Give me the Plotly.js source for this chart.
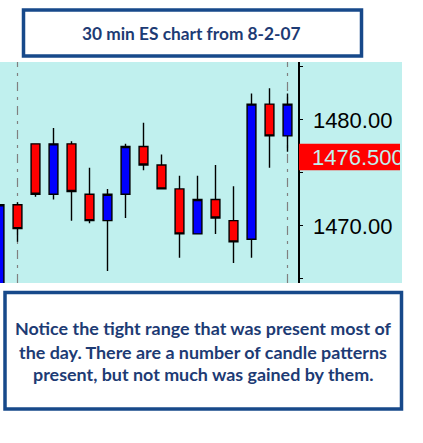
<!DOCTYPE html>
<html>
<head>
<meta charset="utf-8">
<script src="https://cdn.plot.ly/plotly-3.0.1.min.js"></script>
<style>
  html, body { margin: 0; padding: 0; background: #ffffff; }
  #chart { width: 423px; height: 443px; }
</style>
</head>
<body>
<div id="chart"></div>
<script>
// 30-minute ES bars, 8-2-07 (bar index, OHLC)
const bars  = [0, 1, 2, 3, 4, 5, 6, 7, 8, 9, 10, 11, 12, 13, 14, 15, 16];
const open  = [1463.00, 1472.00, 1477.75, 1473.00, 1477.75, 1473.00, 1470.50, 1473.00, 1477.50, 1475.75, 1473.50, 1469.25, 1472.50, 1470.50, 1468.75, 1481.50, 1478.50];
const high  = [1472.00, 1472.25, 1477.75, 1479.25, 1478.00, 1475.50, 1473.50, 1477.75, 1479.75, 1476.75, 1474.75, 1474.75, 1475.75, 1473.75, 1482.50, 1483.00, 1482.50];
const low   = [1462.50, 1468.50, 1472.75, 1472.50, 1470.50, 1470.25, 1465.75, 1470.75, 1475.25, 1473.50, 1467.00, 1469.25, 1469.25, 1466.50, 1467.00, 1475.50, 1477.00];
const close = [1472.00, 1469.75, 1473.00, 1477.75, 1473.25, 1470.50, 1473.00, 1477.50, 1475.75, 1473.50, 1469.25, 1472.50, 1470.75, 1468.50, 1481.50, 1478.50, 1481.50];

// session separators and last traded price
const sessionMarks = [1, 16];
const lastPrice = 1476.5;

const titleText = '30 min ES chart from 8-2-07';
const noteLines = [
  'Notice the tight range that was present most of',
  'the day. There are a number of candle patterns',
  'present, but not much was gained by them.'
];

const W = 423, H = 443;
const plotL = 0, plotR = 402, plotT = 62, plotB = 283;
const plotW = plotR - plotL, plotH = plotB - plotT;
const px2x = x => (x - plotL) / plotW;          // pixel -> paper x
const px2y = y => (plotB - y) / plotH;          // pixel -> paper y

const boxColor = '#17498a';
const textColor = '#1d3b74';
const bgCyan = '#c0f0ee';

const trace = {
  type: 'candlestick',
  x: bars, open: open, high: high, low: low, close: close,
  increasing: { line: { color: '#000000', width: 1.4 }, fillcolor: '#0000ff' },
  decreasing: { line: { color: '#000000', width: 1.4 }, fillcolor: '#ff0000' },
  whiskerwidth: 0,
  hoverinfo: 'skip',
  showlegend: false
};

const shapes = [];
sessionMarks.forEach(m => shapes.push({
  type: 'line', xref: 'x', yref: 'paper', x0: m, x1: m, y0: 0, y1: 1,
  line: { color: '#808080', width: 1.2, dash: '9px,6px,3px,6px' }, layer: 'below'
}));
// last price flag on the scale
shapes.push({
  type: 'rect', xref: 'paper', yref: 'y',
  x0: px2x(299), x1: px2x(400), y0: lastPrice - 1.25, y1: lastPrice + 1.25,
  fillcolor: '#ff0000', line: { width: 0 }, layer: 'above'
});
// title frame
shapes.push({
  type: 'rect', xref: 'paper', yref: 'paper',
  x0: px2x(23.5), x1: px2x(361.5), y0: px2y(56), y1: px2y(10),
  fillcolor: '#ffffff', line: { color: boxColor, width: 3.5 }
});
// note frame
shapes.push({
  type: 'rect', xref: 'paper', yref: 'paper',
  x0: px2x(5), x1: px2x(401.5), y0: px2y(409), y1: px2y(292.5),
  fillcolor: '#ffffff', line: { color: boxColor, width: 3.5 }
});

const annotations = [];
annotations.push({
  text: '<b>' + titleText + '</b>', xref: 'paper', yref: 'paper',
  x: px2x(191.5), y: px2y(33), xanchor: 'center', yanchor: 'middle',
  showarrow: false, font: { family: 'Lato, Carlito, sans-serif', size: 17.3, color: textColor }
});
const lineY = [328.3, 351.5, 374.5];
noteLines.forEach((t, i) => annotations.push({
  text: '<b>' + t + '</b>', xref: 'paper', yref: 'paper',
  x: px2x(203), y: px2y(lineY[i]), xanchor: 'center', yanchor: 'middle',
  showarrow: false, font: { family: 'Lato, Carlito, sans-serif', size: 17.9, color: textColor }
}));
annotations.push({
  text: lastPrice.toFixed(3), xref: 'paper', yref: 'y',
  x: px2x(312), y: lastPrice, xanchor: 'left', yanchor: 'middle',
  width: 88, align: 'left', borderpad: 0, borderwidth: 0,
  showarrow: false, font: { family: 'Liberation Sans, Arial, sans-serif', size: 22, color: bgCyan }
});

const layout = {
  width: W, height: H,
  margin: { l: plotL, r: W - plotR, t: plotT, b: H - plotB, pad: 0 },
  paper_bgcolor: '#ffffff',
  plot_bgcolor: bgCyan,
  showlegend: false,
  xaxis: {
    range: [0.5 / 18, 402.5 / 18],
    visible: false, showgrid: false, zeroline: false, fixedrange: true,
    rangeslider: { visible: false }
  },
  yaxis: {
    range: [1464.62, 1485.47],
    anchor: 'free', position: px2x(298), side: 'right',
    showline: true, linecolor: '#000000', linewidth: 1.5,
    ticks: 'outside', ticklen: 3, tickcolor: '#000000', tickwidth: 1,
    tick0: 1470, dtick: 10, tickformat: '.2f',
    minor: { tick0: 1465, dtick: 5, ticks: 'outside', ticklen: 3, tickcolor: '#000000', showgrid: false },
    ticklabelstandoff: 6,
    tickfont: { family: 'Liberation Sans, Arial, sans-serif', size: 22, color: '#000000' },
    showgrid: false, zeroline: false, fixedrange: true
  },
  shapes: shapes,
  annotations: annotations
};

Plotly.newPlot('chart', [trace], layout, { staticPlot: true, displayModeBar: false });
</script>
</body>
</html>
